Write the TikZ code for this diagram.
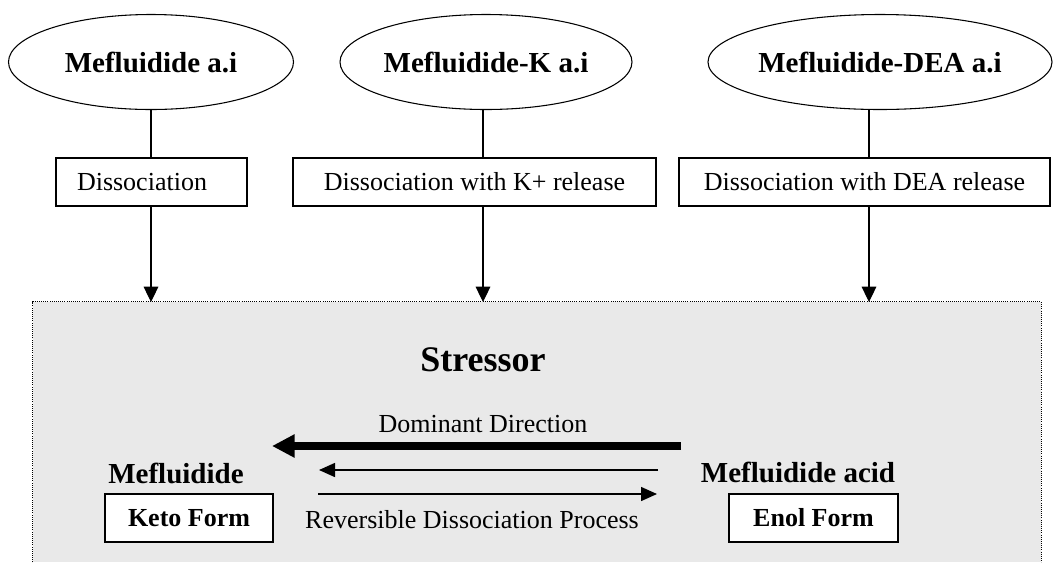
\documentclass[tikz,border=0pt]{standalone}
\usepackage{fontspec}
\setmainfont{Liberation Serif}
\usetikzlibrary{shapes.geometric,arrows.meta}
\definecolor{stressgrey}{HTML}{E9E9E9}
\begin{document}
\begin{tikzpicture}[
                  x=0.75pt, y=-0.75pt,
                  agent/.style={draw, ellipse, line width=0.8pt, inner sep=0pt,
                    minimum height=71.25pt, font=\fontsize{21.75}{24}\selectfont\bfseries},
                  stepbox/.style={draw, line width=0.8pt, inner sep=0pt,
                    minimum height=36pt, font=\fontsize{19.5}{22}\selectfont},
                  formbox/.style={stepbox, fill=white, minimum width=126pt, font=\fontsize{19.5}{22}\selectfont\bfseries},
                  processtext/.style={anchor=base, inner sep=0pt, font=\fontsize{19.5}{22}\selectfont},
                  formname/.style={anchor=base, inner sep=0pt, font=\fontsize{21.75}{24}\selectfont\bfseries},
                  downarrow/.style={line width=0.8pt, -{Triangle[length=11.5pt, width=11pt]}},
                  revarrow/.style={line width=1.1pt, -{Triangle[length=12pt, width=10.5pt]}},
                  domarrow/.style={line width=5.5pt, -{Triangle[length=17pt, width=16.5pt]}}
                ]
                  \useasboundingbox (0,0) rectangle (1057,562);
                  % stressor area
                  \node[fill=stressgrey, inner sep=0pt, minimum width=756pt, minimum height=195pt] (stress) at (537,432) {};
                  \draw[densely dotted, line width=0.6pt] (stress.south west) |- (stress.north east) -- (stress.south east);
                  % active ingredients
                  \node[agent, minimum width=213.75pt] (e1) at (151,62) {Mefluidide a.i};
                  \node[agent, minimum width=219pt] (e2) at (486,62) {Mefluidide-K a.i};
                  \node[agent, minimum width=231.75pt] (e3) at (880,62) {Mefluidide-DEA a.i};
                  \node[stepbox, inner xsep=15.75pt, text width=111.75pt, align=left] (d1) at (151.5,182) {Dissociation};
                  \node[stepbox, minimum width=272.25pt] (d2) at (474.5,182) {Dissociation with K+ release};
                  \node[stepbox, minimum width=278.25pt] (d3) at (864.5,182) {Dissociation with DEA release};
                  \coordinate (in1) at (151,302);
                  \coordinate (in2) at (483,302);
                  \coordinate (in3) at (869,302);
                  \foreach \i in {1,2,3} {
                    \draw[line width=0.8pt] (e\i.south -| in\i) -- (d\i.north -| in\i);
                    \draw[downarrow] (d\i.south -| in\i) -- (in\i);
                  }
                  % inside the stressor
                  \node[anchor=base, inner sep=0pt, font=\fontsize{27}{30}\selectfont\bfseries] (title) at (483,371) {Stressor};
                  \node[processtext] (dom) at (483,432) {Dominant Direction};
                  \node[processtext] (rev) at (472,528) {Reversible Dissociation Process};
                  \node[formname] (keto) at (176,483) {Mefluidide};
                  \node[formname] (enol) at (798,482) {Mefluidide acid};
                  \node[formbox] (ketoform) at (189,518) {Keto Form};
                  \node[formbox, minimum width=126.75pt] (enolform) at (813.5,518) {Enol Form};
                  \coordinate (domR) at (681,446);
                  \coordinate (domL) at (272,446);
                  \coordinate (backR) at (658,470);
                  \coordinate (backL) at (319,470);
                  \coordinate (fwdL) at (318,494);
                  \coordinate (fwdR) at (657,494);
                  \draw[domarrow] (domR) -- (domL);
                  \draw[revarrow] (backR) -- (backL);
                  \draw[revarrow] (fwdL) -- (fwdR);
                \end{tikzpicture}
\end{document}
